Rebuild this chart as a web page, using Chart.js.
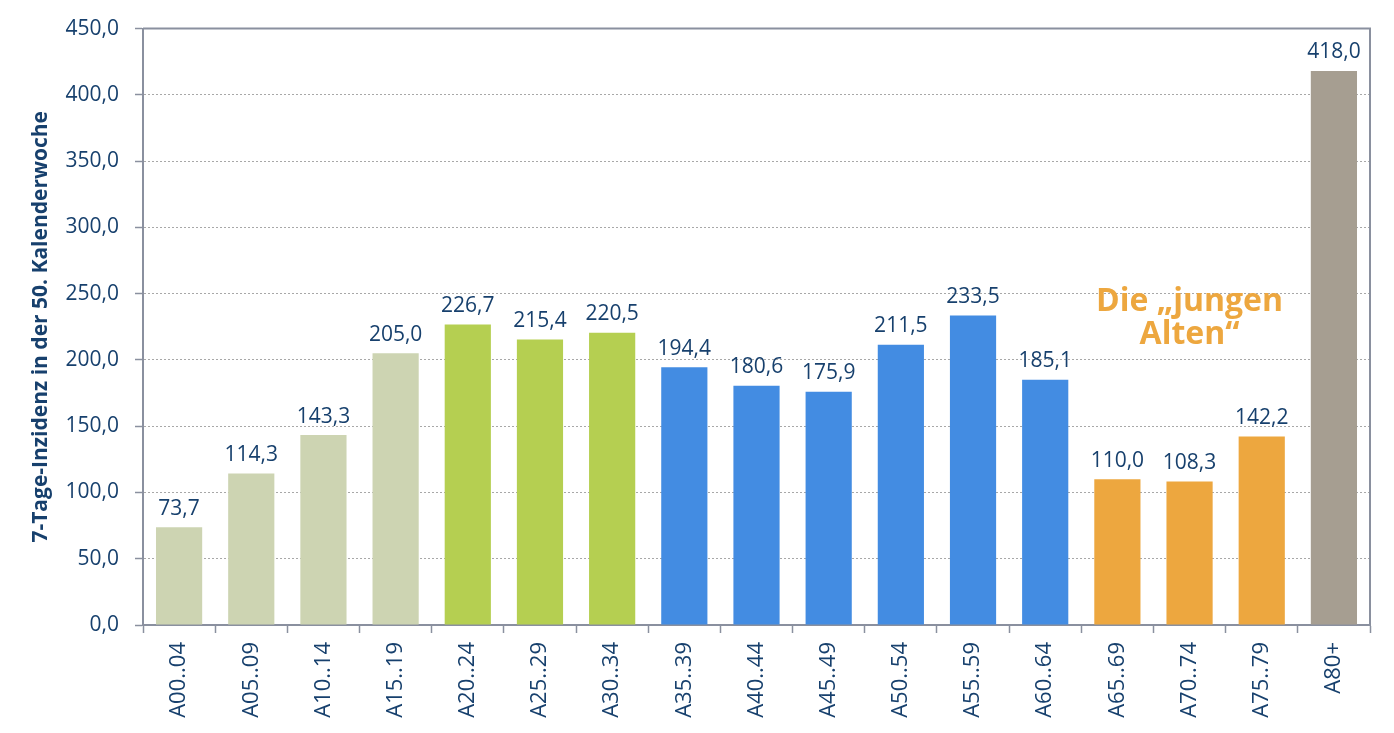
<!DOCTYPE html>
<html><head><meta charset="utf-8">
<script src="https://cdn.jsdelivr.net/npm/chart.js@4"></script>
<style>html,body{margin:0;padding:0;background:#fff}#wrap{width:1394px;height:733px}</style>
</head><body><div id="wrap"><canvas id="c"></canvas></div>
<script>
const categories = ["A00..04","A05..09","A10..14","A15..19","A20..24","A25..29","A30..34","A35..39","A40..44","A45..49","A50..54","A55..59","A60..64","A65..69","A70..74","A75..79","A80+"];
const values = [73.7,114.3,143.3,205.0,226.7,215.4,220.5,194.4,180.6,175.9,211.5,233.5,185.1,110.0,108.3,142.2,418.0];
const barColors = ["#CDD4B2","#CDD4B2","#CDD4B2","#CDD4B2","#B5CF51","#B5CF51","#B5CF51","#438CE2","#438CE2","#438CE2","#438CE2","#438CE2","#438CE2","#EDA73F","#EDA73F","#EDA73F","#A69E91"];
const yTitle = "7-Tage-Inzidenz in der 50. Kalenderwoche";
const annotationLines = ["Die \u201Ejungen", "Alten\u201C"];
const annotationAnchor = {category: 14, values: [243.5, 219]};
const yMin = 0, yMax = 450, yStep = 50;

const FONT = "'Open Sans', 'DejaVu Sans', sans-serif";
const TEXT = "#17406D";
const AXIS = "#8A909F";
const fmt = v => v.toFixed(1).replace('.', ',');

const labelsPlugin = {
  id: 'valueLabels',
  afterDatasetsDraw(chart) {
    const ctx = chart.ctx;
    const meta = chart.getDatasetMeta(0);
    ctx.save();
    ctx.font = "21px " + FONT;
    ctx.fillStyle = TEXT;
    ctx.textAlign = 'center';
    ctx.textBaseline = 'bottom';
    meta.data.forEach((bar, i) => {
      ctx.fillText(fmt(values[i]), bar.x, bar.y - 8);
    });
    const xs = chart.scales.x, ys = chart.scales.y;
    ctx.font = "bold 32px " + FONT;
    ctx.fillStyle = "#EDA73F";
    ctx.textBaseline = 'middle';
    annotationLines.forEach((t, k) => {
      ctx.fillText(t, xs.getPixelForValue(annotationAnchor.category), ys.getPixelForValue(annotationAnchor.values[k]));
    });
    const a = chart.chartArea;
    ctx.strokeStyle = AXIS;
    ctx.lineWidth = 2;
    ctx.beginPath();
    ctx.moveTo(a.left, a.top);
    ctx.lineTo(a.right, a.top);
    ctx.lineTo(a.right, a.bottom);
    ctx.stroke();
    ctx.restore();
  }
};

new Chart(document.getElementById('c'), {
  type: 'bar',
  data: {
    labels: categories,
    datasets: [{ data: values, backgroundColor: barColors, borderWidth: 0, categoryPercentage: 1.0, barPercentage: 0.64 }]
  },
  options: {
    responsive: true,
    maintainAspectRatio: false,
    animation: false,
    devicePixelRatio: 1,
    layout: { padding: { top: 25, right: 24, left: 0, bottom: 0 } },
    plugins: { legend: { display: false }, tooltip: { enabled: false } },
    scales: {
      x: {
        grid: { drawOnChartArea: false, tickLength: 8, tickColor: AXIS, tickWidth: 1.5 },
        border: { color: AXIS, width: 2 },
        ticks: { color: TEXT, font: { family: FONT, size: 22 }, minRotation: 90, maxRotation: 90, padding: 9, autoSkip: false },
        afterFit(s) { s.height = 108; }
      },
      y: {
        min: yMin, max: yMax,
        grid: { color: '#A8A8A8', lineWidth: 1, tickLength: 8, tickColor: AXIS, tickWidth: 1.5, tickBorderDash: [] },
        border: { color: AXIS, width: 2, dash: [2, 2] },
        ticks: { stepSize: yStep, color: TEXT, font: { family: FONT, size: 21 }, padding: 16, callback: v => fmt(v) },
        title: { display: true, text: yTitle, color: TEXT, font: { family: FONT, size: 21, weight: 'bold' }, padding: { top: 28, bottom: 0 } },
        afterFit(s) { s.width = 143; }
      }
    }
  },
  plugins: [labelsPlugin]
});
</script></body></html>
